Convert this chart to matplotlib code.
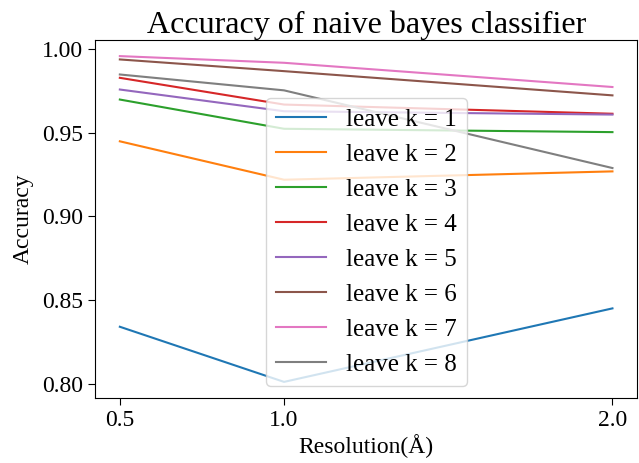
import matplotlib
matplotlib.use('Agg')
import matplotlib.pyplot as plt

# resolution values on the x axis
resolution = [0.5, 1.0, 2.0]

# accuracy for each leave-k-out setting
acc_k1 = [0.834, 0.801, 0.845]
acc_k2 = [0.945, 0.922, 0.927]
acc_k3 = [0.970, 0.9525, 0.9505]
acc_k4 = [0.983, 0.967, 0.9615]
acc_k5 = [0.976, 0.963, 0.961]
acc_k6 = [0.994, 0.987, 0.9725]
acc_k7 = [0.996, 0.992, 0.9775]
acc_k8 = [0.985, 0.9755, 0.929]

series = [acc_k1, acc_k2, acc_k3, acc_k4, acc_k5, acc_k6, acc_k7, acc_k8]
yticks = [0.80, 0.85, 0.90, 0.95, 1.00]

plt.rcParams['font.family'] = ['Liberation Serif', 'DejaVu Serif']

fig, ax = plt.subplots(figsize=(6.39, 4.63), dpi=100)
for k, acc in enumerate(series, start=1):
    ax.plot(resolution, acc, label=f'leave k = {k}')

ax.set_xticks(resolution)
ax.set_xticklabels(['0.5', '1.0', '2.0'])
ax.set_yticks(yticks)
ax.set_yticklabels([f'{v:.2f}' for v in yticks])
ax.tick_params(labelsize=17, length=5)
ax.set_title('Accuracy of naive bayes classifier', fontsize=23, pad=4)
ax.set_xlabel('Resolution(Å)', fontsize=17, labelpad=2)
ax.set_ylabel('Accuracy', fontsize=17, labelpad=6)
ax.legend(loc='lower center', fontsize=18)

fig.subplots_adjust(left=0.149, right=0.997, top=0.914, bottom=0.14)
fig.savefig('out.png')
